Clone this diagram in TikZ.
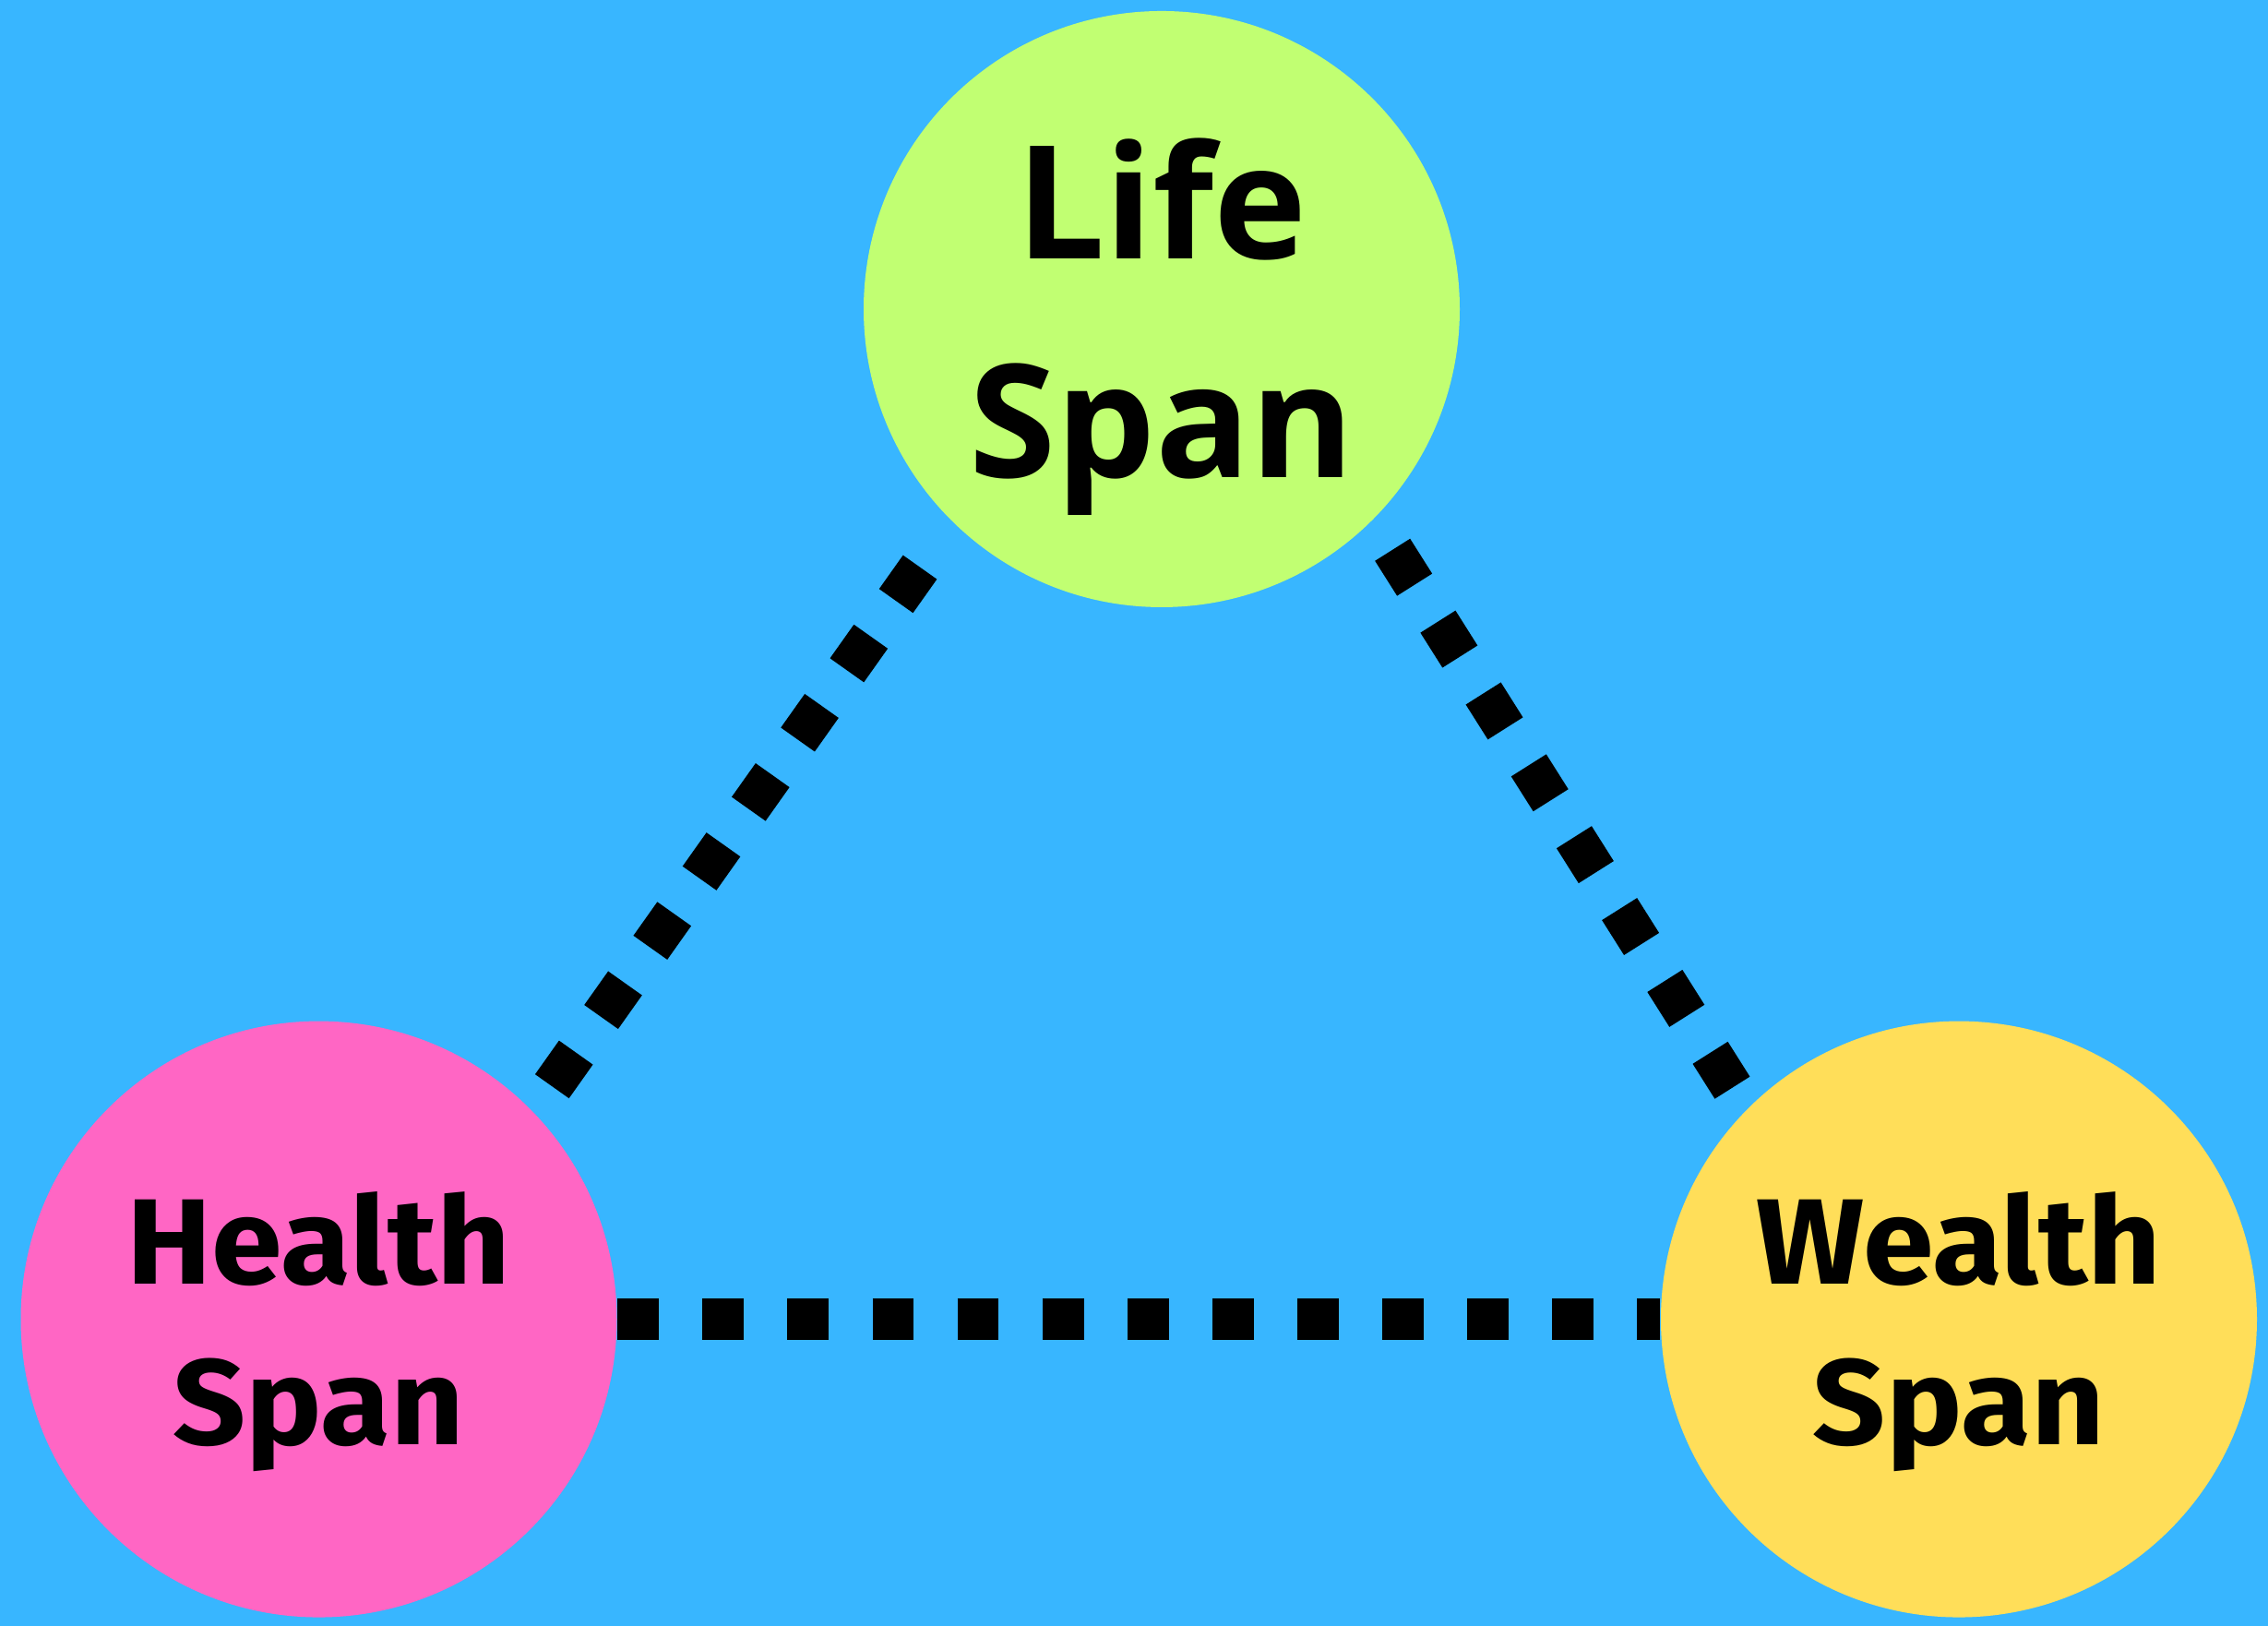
\documentclass[tikz,border=0pt]{standalone}
\usepackage{fontspec}
\newfontfamily\lifefont{Open Sans}
\newfontfamily\spanfont{Fira Sans}[FakeStretch=1.05]
\usepackage{tikz}
\usetikzlibrary{calc}
\definecolor{skyblue}{HTML}{38B6FF}
\definecolor{lifegreen}{HTML}{C1FF72}
\definecolor{healthpink}{HTML}{FF66C4}
\definecolor{wealthyellow}{HTML}{FFDE59}
\tikzset{bubble/.style={circle,inner sep=0pt,minimum size=6.46cm}}
\tikzset{spanline/.style={black,line width=4.5mm,dash pattern=on 4.48mm off 4.73mm}}
\tikzset{lifelabel/.style={align=center,font=\lifefont\bfseries\fontsize{48.6}{67.4}\selectfont}}
\tikzset{spanlabel/.style={align=center,font=\spanfont\bfseries\fontsize{37.5}{49.5}\selectfont}}

\begin{document}
\begin{tikzpicture}
      \fill [skyblue] (0,0) rectangle (24.58,17.62);
      \useasboundingbox (0,0) rectangle (24.58,17.62);

      \node [bubble,fill=lifegreen] (life) at (12.59,14.27) {};
      \node [bubble,fill=healthpink] (health) at (3.455,3.324) {};
      \node [bubble,fill=wealthyellow] (wealth) at (21.23,3.324) {};

      \node [lifelabel] (lifetext) at ([yshift=-1.9mm]life.center) {Life\\Span};
      \node [spanlabel] (healthtext) at ([yshift=-1.4mm]health.center) {Health\\Span};
      \node [spanlabel] (wealthtext) at ([yshift=-1.4mm]wealth.center) {Wealth\\Span};

      \coordinate (hl0) at (5.983,5.848);
      \coordinate (hl1) at (9.971,11.474);
      \coordinate (lw0) at (15.092,11.662);
      \coordinate (lw1) at (18.775,5.832);

      \draw [spanline] (hl0) -- (hl1);
      \draw [spanline] (lw0) -- (lw1);
      \draw [spanline] (health.east) -- (wealth.west);
\end{tikzpicture}
\end{document}
